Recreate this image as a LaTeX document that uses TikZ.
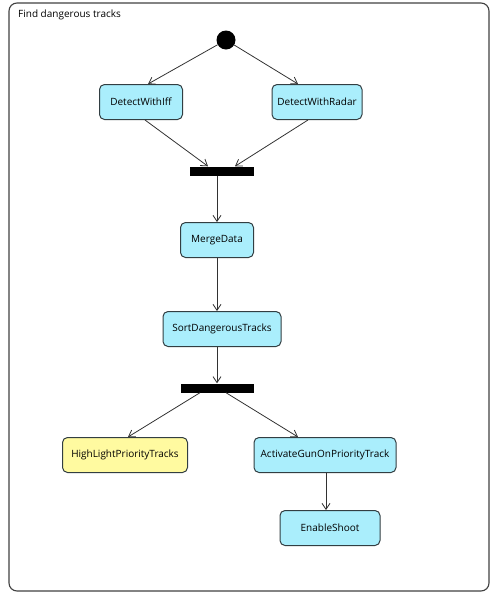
\documentclass[tikz,border=0pt]{standalone}
\usepackage{fontspec}
\setmainfont{Open Sans}
\usetikzlibrary{arrows.meta}
\definecolor{actfill}{RGB}{170,238,252}
\definecolor{hlfill}{RGB}{255,250,160}
\definecolor{edgecol}{RGB}{50,62,66}
\definecolor{linecol}{RGB}{50,50,50}
\tikzset{
  act/.style={draw=edgecol, line width=1pt, fill=actfill, rounded corners=5pt,
    minimum height=35pt, inner xsep=4pt, font=\fontsize{10}{12}\selectfont, text=black},
  hlact/.style={act, fill=hlfill},
  bar/.style={fill=black, draw=none, minimum width=64pt, minimum height=9pt, inner sep=0pt},
  flow/.style={draw=linecol, line width=0.8pt, -{Straight Barb[length=6pt,width=8pt]}},
}
\begin{document}
\begin{tikzpicture}[x=1pt,y=-1pt]
\useasboundingbox (0,0) rectangle (500,598);
\draw[draw=black!75, line width=1.1pt, rounded corners=8pt] (9,3) rectangle (489,591);
\node[anchor=west, font=\fontsize{10}{12}\selectfont, inner sep=0pt] (title) at (18,15) {Find dangerous tracks};
\node[circle, fill=black, minimum size=19pt, inner sep=0pt] (init) at (226,40) {};
\node[act, minimum width=83pt] (iff) at (141,102) {DetectWithIff};
\node[act, minimum width=90pt] (radar) at (317,102) {DetectWithRadar};
\node[bar] (join) at (222,171) {};
\node[act, minimum width=73pt] (merge) at (217,240) {MergeData};
\node[act, minimum width=118pt] (sort) at (222,329) {SortDangerousTracks};
\node[bar, minimum width=73pt] (fork) at (217,388) {};
\node[hlact, minimum width=125pt] (hl) at (125,455) {HighLightPriorityTracks};
\node[act, minimum width=142pt] (gun) at (325,455) {ActivateGunOnPriorityTrack};
\node[act, minimum width=100pt] (shoot) at (330,528) {EnableShoot};
\draw[flow] (init) -- (iff.north -| 148,0);
\draw[flow] (init) -- (radar.north -| 298,0);
\draw[flow] (iff.south -| 145,0) -- (join.north -| 208,0);
\draw[flow] (radar.south -| 308,0) -- (join.north -| 235,0);
\draw[flow] (join.south -| 217,0) -- (merge.north -| 217,0);
\draw[flow] (merge.south -| 217,0) -- (sort.north -| 217,0);
\draw[flow] (sort.south -| 217,0) -- (fork.north -| 217,0);
\draw[flow] (fork.south -| 200,0) -- (hl.north -| 128,0);
\draw[flow] (fork.south -| 226,0) -- (gun.north -| 298,0);
\draw[flow] (gun.south -| 326,0) -- (shoot.north -| 326,0);
\end{tikzpicture}
\end{document}
